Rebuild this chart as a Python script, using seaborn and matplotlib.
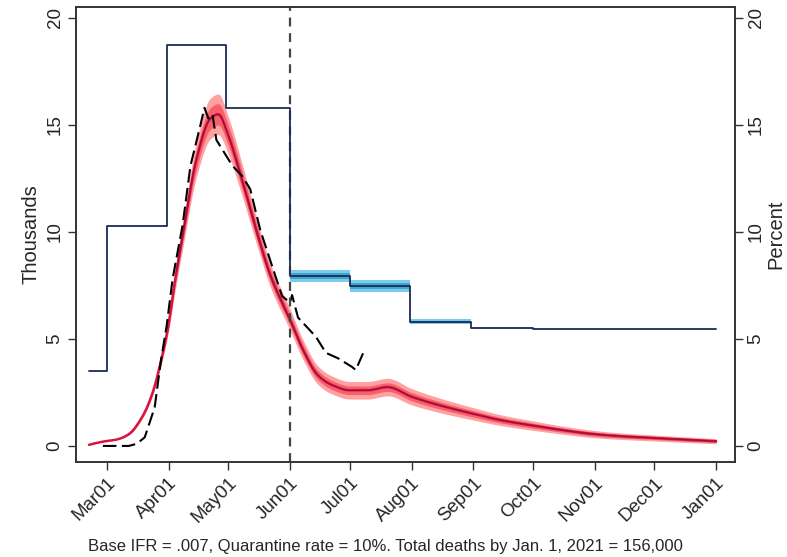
import numpy as np
import pandas as pd
import matplotlib
matplotlib.use("Agg")
import matplotlib.pyplot as plt
import matplotlib.dates as mdates
import seaborn as sns

# model projection of daily deaths (thousands), with inner / outer band half-widths
sim_dates = ["2020-02-21", "2020-02-28", "2020-03-06", "2020-03-12", "2020-03-19",
             "2020-03-24", "2020-03-28", "2020-04-01", "2020-04-04", "2020-04-08",
             "2020-04-15", "2020-04-22", "2020-04-26", "2020-05-01", "2020-05-08",
             "2020-05-15", "2020-05-22", "2020-06-01", "2020-06-08", "2020-06-15",
             "2020-06-22", "2020-07-01", "2020-07-10", "2020-07-20", "2020-08-01",
             "2020-08-15", "2020-09-01", "2020-09-15", "2020-10-01", "2020-10-15",
             "2020-11-01", "2020-11-15", "2020-12-01", "2020-12-15", "2021-01-01"]
sim_deaths = [0.05, 0.2, 0.3, 0.55, 1.4, 2.5, 3.9, 5.7, 7.6, 9.8,
              13.4, 15.3, 15.5, 14.5, 12.4, 10.1, 8.0, 5.9, 4.4, 3.3,
              2.85, 2.6, 2.6, 2.75, 2.3, 1.9, 1.5, 1.2, 0.95, 0.75,
              0.55, 0.45, 0.37, 0.3, 0.22]
band_inner = [0.0, 0.0, 0.0, 0.02, 0.05, 0.08, 0.12, 0.2, 0.28, 0.35,
              0.45, 0.5, 0.5, 0.48, 0.42, 0.36, 0.3, 0.27, 0.24, 0.22,
              0.21, 0.2, 0.2, 0.2, 0.19, 0.17, 0.15, 0.13, 0.12, 0.1,
              0.09, 0.08, 0.07, 0.07, 0.06]
band_outer = [0.0, 0.0, 0.0, 0.04, 0.08, 0.14, 0.22, 0.35, 0.5, 0.62,
              0.82, 0.95, 0.95, 0.88, 0.75, 0.62, 0.55, 0.5, 0.46, 0.43,
              0.42, 0.41, 0.41, 0.41, 0.38, 0.34, 0.29, 0.25, 0.22, 0.19,
              0.17, 0.15, 0.14, 0.13, 0.12]

# observed deaths (thousands)
obs_dates = ["2020-02-28", "2020-03-12", "2020-03-16", "2020-03-20", "2020-03-25",
             "2020-03-28", "2020-03-31", "2020-04-03", "2020-04-08", "2020-04-12",
             "2020-04-17", "2020-04-19", "2020-04-21", "2020-04-23", "2020-04-25",
             "2020-04-29", "2020-05-03", "2020-05-08", "2020-05-12", "2020-05-17",
             "2020-05-23", "2020-05-28", "2020-06-01", "2020-06-02", "2020-06-05",
             "2020-06-10", "2020-06-14", "2020-06-19", "2020-06-25", "2020-07-02",
             "2020-07-04", "2020-07-08"]
obs_deaths = [0.0, 0.0, 0.1, 0.4, 1.8, 3.9, 5.6, 7.8, 10.3, 13.1,
              15.0, 15.8, 15.3, 15.5, 14.3, 13.7, 13.1, 12.6, 12.0, 10.1,
              8.4, 7.0, 6.7, 7.05, 6.0, 5.5, 5.1, 4.35, 4.1, 3.7,
              3.55, 4.4]

# quarantine rate (percent), step function
q_dates = ["2020-02-21", "2020-03-01", "2020-03-31", "2020-04-30", "2020-06-01",
           "2020-07-01", "2020-07-31", "2020-08-31", "2020-10-01", "2021-01-01"]
q_rate = [3.5, 10.3, 18.75, 15.8, 7.95, 7.47, 5.8, 5.5, 5.45, 5.45]
q_band = [0.0, 0.0, 0.0, 0.0, 0.28, 0.3, 0.12, 0.0, 0.0, 0.0]

caption = "Base IFR = .007, Quarantine rate = 10%. Total deaths by Jan. 1, 2021 = 156,000"

sim = pd.DataFrame({"date": pd.to_datetime(sim_dates), "deaths": sim_deaths,
                    "inner": band_inner, "outer": band_outer})
obs = pd.DataFrame({"date": pd.to_datetime(obs_dates), "deaths": obs_deaths})
qr = pd.DataFrame({"date": pd.to_datetime(q_dates), "rate": q_rate, "band": q_band})

# smooth model curve on a daily grid
daily = sim.set_index("date").resample("D").asfreq().interpolate(method="pchip").reset_index()

sns.set_style("white")
plt.rcParams["font.family"] = ["Liberation Sans", "DejaVu Sans"]

fig = plt.figure(figsize=(7.87, 5.57), dpi=100)
ax = fig.add_axes([0.0966, 0.1706, 0.8374, 0.8164])
ax2 = ax.twinx()

# quarantine rate step line with uncertainty band
qb = qr[qr["band"] > 0]
for _, r in qb.iterrows():
    nxt = qr.loc[qr["date"] > r["date"], "date"].iloc[0]
    xs = [r["date"], nxt]
    ax2.fill_between(xs, r["rate"] - r["band"], r["rate"] + r["band"],
                     color="#6cc6ea", alpha=0.9, lw=0)
    ax2.fill_between(xs, r["rate"] - r["band"] * 0.5, r["rate"] + r["band"] * 0.5,
                     color="#2f9cc8", alpha=0.8, lw=0)
sns.lineplot(data=qr, x="date", y="rate", ax=ax2, color="#1c2b55", lw=1.3,
             drawstyle="steps-post")

# model band + line
ax.fill_between(daily["date"], daily["deaths"] - daily["outer"], daily["deaths"] + daily["outer"],
                color="#ff8a8a", alpha=0.8, lw=0)
ax.fill_between(daily["date"], daily["deaths"] - daily["inner"], daily["deaths"] + daily["inner"],
                color="#f24a5a", alpha=0.75, lw=0)
sns.lineplot(data=daily, x="date", y="deaths", ax=ax, color="#d9143f", lw=1.8)
sns.lineplot(data=daily[daily["date"] >= "2020-04-05"], x="date", y="deaths", ax=ax,
             color="#9a1040", lw=0.9)

# observed
sns.lineplot(data=obs, x="date", y="deaths", ax=ax, color="black", lw=1.5,
             dashes=False, linestyle=(0, (6.5, 2.6)))

ax.axvline(pd.Timestamp("2020-06-01"), color="#444444", lw=1.6, linestyle=(0, (4, 3)))

xmin, xmax = pd.Timestamp("2020-02-14 12:00"), pd.Timestamp("2021-01-10 12:00")
for a in (ax, ax2):
    a.set_xlim(xmin, xmax)
    a.set_ylim(-0.75, 20.5)
    a.set_yticks([0, 5, 10, 15, 20])

months = pd.date_range("2020-03-01", "2021-01-01", freq="MS")
ax.set_xticks(months)
ax.set_xticklabels([d.strftime("%b%d") for d in months],
                   rotation=45, ha="right", rotation_mode="anchor", fontsize=13.5)

for a in (ax, ax2):
    a.tick_params(axis="both", direction="out", length=6, width=1, color="#333333",
                  labelsize=13.5, pad=3)
    for lab in a.get_yticklabels():
        lab.set_rotation(90)
        lab.set_va("center")
    for s in a.spines.values():
        s.set_color("#333333")
        s.set_linewidth(1.2)
ax.tick_params(axis="x", bottom=True, labelsize=13.5)
ax.tick_params(axis="y", left=True)
ax2.tick_params(axis="y", right=True)

ax.set_xlabel("")
ax.set_ylabel("Thousands", fontsize=14.5, labelpad=4)
ax2.set_xlabel("")
ax2.set_ylabel("Percent", fontsize=14.5, labelpad=1, rotation=90)

fig.text(0.49, 0.006, caption, ha="center", va="bottom", fontsize=12)

fig.savefig("out.png", dpi=100)
